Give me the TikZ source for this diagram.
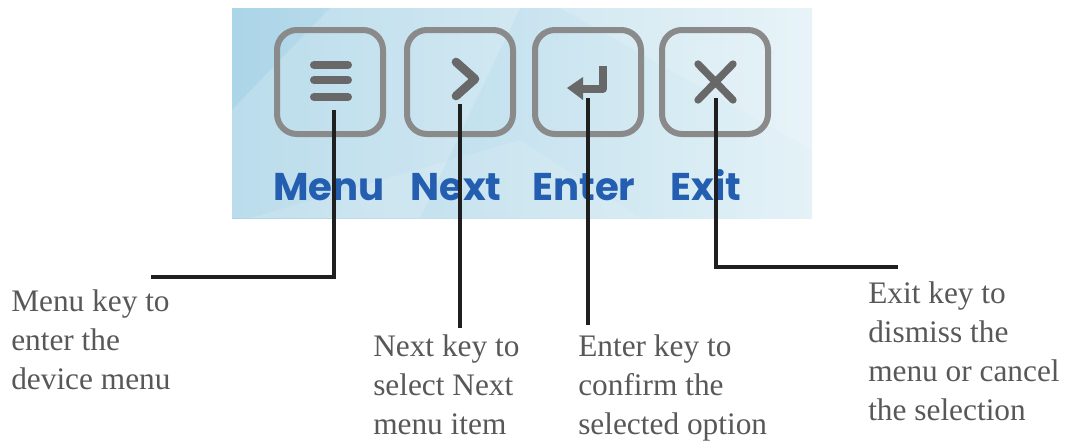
\documentclass[tikz,border=0pt]{standalone}
\usepackage{fontspec}
\setmainfont{Liberation Serif}
\newfontfamily\keyfont{Poppins}
\usepackage{tikz}
\usetikzlibrary{calc,positioning}
\definecolor{keyblue}{RGB}{36,94,176}
\definecolor{keygray}{RGB}{138,138,138}
\definecolor{icongray}{RGB}{104,104,104}
\definecolor{descgray}{RGB}{88,88,88}
\definecolor{panelleft}{RGB}{172,213,232}
\definecolor{panelright}{RGB}{228,242,247}
\tikzset{
keybox/.style={draw=keygray, line width=4.5pt, rounded corners=15pt,
   minimum width=79.5pt, minimum height=78pt, inner sep=0pt},
keylabel/.style={text=keyblue, anchor=base, inner sep=0pt,
   font=\keyfont\bfseries\fontsize{29}{30}\selectfont},
icon/.style={draw=icongray, line cap=round, line join=round},
desc/.style={text=descgray, align=left, anchor=north west, inner sep=0pt,
   font=\fontsize{23.5}{29.25}\selectfont},
callout/.style={draw=black!88, line width=2.3pt},
}

\begin{document}
\begin{tikzpicture}[x=0.75pt,y=-0.75pt]
   \useasboundingbox (0,0) rectangle (1073,443);
   % panel
   \shade[left color=panelleft, right color=panelright] (232,8) rectangle (812,218);
   \fill[white, opacity=0.18] (232,110) -- (330,8) -- (520,8) -- (420,218) -- (232,218) -- cycle;
   \fill[white, opacity=0.15] (560,8) -- (812,8) -- (812,150) -- cycle;
   \fill[white, opacity=0.12] (250,218) -- (520,140) -- (640,218) -- cycle;
   % keys
   \node[keybox] (menu)  at (330,82) {};
   \node[keybox] (next)  at (460,82) {};
   \node[keybox] (enter) at (588,82) {};
   \node[keybox] (exit)  at (715,82) {};
   \node[keylabel] (menu_l)  at (329,200) {Menu};
   \node[keylabel] (next_l)  at (456,200) {Next};
   \node[keylabel] (enter_l) at (584,200) {Enter};
   \node[keylabel] (exit_l)  at (706,200) {Exit};
   % icons
   \begin{scope}[shift={(menu)}]
      \draw[icon, line width=6pt] (-16,-17) -- (18,-17) (-16,-2) -- (18,-2) (-16,15) -- (18,15);
   \end{scope}
   \begin{scope}[shift={(next)}]
      \draw[icon, line width=6.5pt] (-4,-20) -- (15,-3) -- (-4,14);
   \end{scope}
   \begin{scope}[shift={(enter)}]
      \draw[icon, line width=5.5pt, line cap=butt] (15,-16) -- (15,7) -- (-6,7);
      \fill[icongray] (-21,6) -- (-5,-5) -- (-5,18) -- cycle;
   \end{scope}
   \begin{scope}[shift={(exit)}]
      \draw[icon, line width=5.5pt] (-17,-18) -- (18,18) (18,-18) -- (-17,18);
   \end{scope}
   % descriptions
   \node[desc] (menu_d)  at (11,289)  {Menu key to\\enter the\\device menu};
   \node[desc] (next_d)  at (373,334) {Next key to\\select Next\\menu item};
   \node[desc] (enter_d) at (578,334) {Enter key to\\confirm the\\selected option};
   \node[desc] (exit_d)  at (868,281) {Exit key to\\dismiss the\\menu or cancel\\the selection};
   % callouts
   \coordinate (menu_t)  at (334,110);
   \coordinate (next_t)  at (460,104);
   \coordinate (enter_t) at (588,98);
   \coordinate (exit_t)  at (716,98);
   \coordinate (menu_e)  at (151,277);
   \coordinate (exit_e)  at (898,267);
   \path[callout]
   (menu_t) |- (menu_e)
   (next_t) -- ($(next_d.north west -| next_t)+(0,-6)$)
   (enter_t) -- ($(enter_d.north west -| enter_t)+(0,-9)$)
   (exit_t) |- (exit_e);
\end{tikzpicture}
\end{document}
